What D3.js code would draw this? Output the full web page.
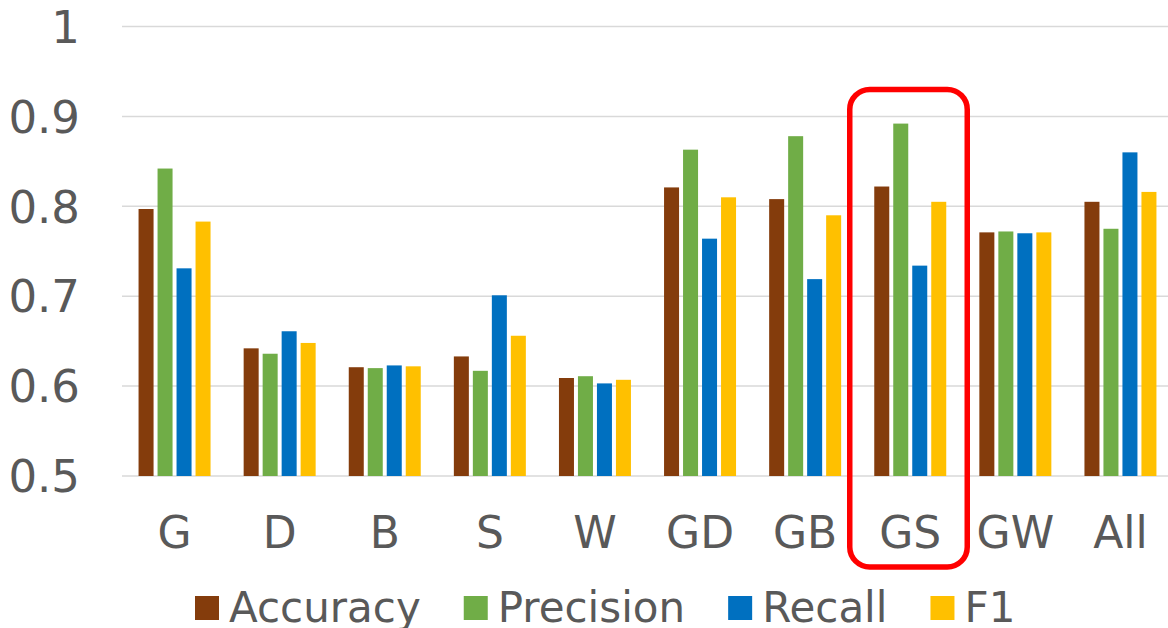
<!doctype html>
<html lang="en">
  <head>
    <meta charset="UTF-8" />
    <title>Accuracy / Precision / Recall / F1 by feature set</title>
    <script src="https://d3js.org/d3.v7.min.js"></script>
    <style>
      body {
        margin: 0;
        background: #fff;
      }

      svg {
        display: block;
        font-family: 'DejaVu Sans', Verdana, sans-serif;
      }

      .grid line {
        stroke: #d9d9d9;
        stroke-width: 1.5;
      }

      .tick-label {
        font-size: 45px;
        fill: #595959;
      }

      .legend-label {
        font-size: 42px;
        fill: #595959;
      }
    </style>
  </head>
  <body>
    <svg id="chart"></svg>

    <script>
      const W = 1168
      const H = 628

      // categories and series
      const categories = ['G', 'D', 'B', 'S', 'W', 'GD', 'GB', 'GS', 'GW', 'All']
      const seriesNames = ['Accuracy', 'Precision', 'Recall', 'F1']
      const seriesColors = ['#843C0C', '#70AD47', '#0070C0', '#FFC000']

      const accuracy = [0.797, 0.642, 0.621, 0.633, 0.609, 0.821, 0.808, 0.822, 0.771, 0.805]
      const precision = [0.842, 0.636, 0.62, 0.617, 0.611, 0.863, 0.878, 0.892, 0.772, 0.775]
      const recall = [0.731, 0.661, 0.623, 0.701, 0.603, 0.764, 0.719, 0.734, 0.77, 0.86]
      const f1 = [0.783, 0.648, 0.622, 0.656, 0.607, 0.81, 0.79, 0.805, 0.771, 0.816]

      const yTicks = [0.5, 0.6, 0.7, 0.8, 0.9, 1]
      const highlighted = 'GS'

      const seriesValues = [accuracy, precision, recall, f1]

      const svg = d3.select('#chart').attr('width', W).attr('height', H)

      // scales
      const x0 = d3
        .scaleBand()
        .domain(categories)
        .range([122, 1173])
        .paddingInner(0.315)
        .paddingOuter(0.1575)

      const x1 = d3
        .scaleBand()
        .domain(seriesNames)
        .range([0, x0.bandwidth()])
        .paddingInner(0.21)

      const y = d3.scaleLinear().domain([0.5, 1]).range([476, 26.5])

      // gridlines
      svg
        .append('g')
        .attr('class', 'grid')
        .selectAll('line')
        .data(yTicks)
        .enter()
        .append('line')
        .attr('x1', 122)
        .attr('x2', W)
        .attr('y1', (d) => y(d))
        .attr('y2', (d) => y(d))

      // y tick labels
      svg
        .append('g')
        .selectAll('text')
        .data(yTicks)
        .enter()
        .append('text')
        .attr('class', 'tick-label')
        .attr('text-anchor', 'end')
        .attr('x', 80)
        .attr('y', (d) => y(d))
        .attr('dy', '0.36em')
        .text((d) => (d === 1 ? '1' : d3.format('.1f')(d)))

      // x category labels
      svg
        .append('g')
        .selectAll('text')
        .data(categories)
        .enter()
        .append('text')
        .attr('class', 'tick-label')
        .style('font-size', '44px')
        .attr('text-anchor', 'middle')
        .attr('x', (d) => x0(d) + x0.bandwidth() / 2)
        .attr('y', 548)
        .text((d) => d)

      // bars
      const groups = svg
        .append('g')
        .selectAll('g')
        .data(categories)
        .enter()
        .append('g')
        .attr('transform', (d) => `translate(${x0(d)},0)`)

      groups
        .selectAll('rect')
        .data((c, ci) => seriesNames.map((s, si) => ({ s, si, v: seriesValues[si][ci] })))
        .enter()
        .append('rect')
        .attr('x', (d) => x1(d.s))
        .attr('width', x1.bandwidth())
        .attr('y', (d) => y(d.v))
        .attr('height', (d) => y(0.5) - y(d.v))
        .attr('fill', (d) => seriesColors[d.si])

      // red highlight box around GS
      const hx = x0(highlighted)
      svg
        .append('rect')
        .attr('x', hx - 24.5)
        .attr('y', y(0.93))
        .attr('width', 117.5)
        .attr('height', 567 - y(0.93))
        .attr('rx', 20)
        .attr('ry', 20)
        .attr('fill', 'none')
        .attr('stroke', '#FF0000')
        .attr('stroke-width', 5.5)

      // legend
      const legend = svg.append('g')
      let cursor = 195
      seriesNames.forEach((name, i) => {
        legend
          .append('rect')
          .attr('x', cursor)
          .attr('y', 596)
          .attr('width', 24)
          .attr('height', 24)
          .attr('fill', seriesColors[i])
        const tx = cursor + 34
        const t = legend
          .append('text')
          .attr('class', 'legend-label')
          .attr('x', tx)
          .attr('y', 622)
          .text(name)
        cursor = tx + t.node().getComputedTextLength() + 43
      })
    </script>
  </body>
</html>
